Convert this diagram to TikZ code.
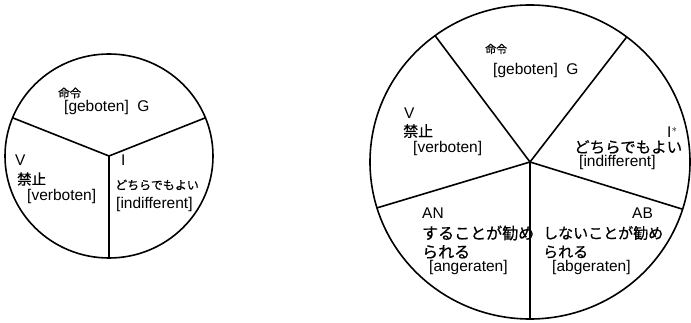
\documentclass[tikz,border=0pt]{standalone}
\usepackage{fontspec}
\setmainfont{Liberation Sans}
\newfontfamily\jpfont[FakeBold=0.6]{Noto Sans CJK JP}
\usetikzlibrary{calc}
\tikzset{
  ring/.style={line width=1.6pt},
  spoke/.style={line width=1.6pt},
  lbl/.style={anchor=west, inner sep=0pt, font=\fontsize{15.5}{16}\selectfont},
  jlbl/.style={anchor=west, inner sep=0pt, font=\jpfont\fontsize{#1}{#1}\selectfont},
}
\begin{document}
\begin{tikzpicture}[x=1pt,y=1pt]
\useasboundingbox (0,0) rectangle (691,322);
% small circle
\coordinate (sc) at (109,166);
\draw[ring] (sc) ellipse [x radius=104pt, y radius=102pt];
\coordinate (s1) at ($(sc)+(158:104pt and 102pt)$);
\coordinate (s2) at ($(sc)+(22:104pt and 102pt)$);
\coordinate (s3) at ($(sc)+(270:104pt and 102pt)$);
\draw[spoke] (sc) -- (s1);
\draw[spoke] (sc) -- (s2);
\draw[spoke] (sc) -- (s3);
\node[jlbl=11.5] (sG1) at (58,229) {命令};
\node[lbl] (sG2) at (64,215) {[geboten]\hspace{0.55em}G};
\node[lbl] (sV1) at (15,162) {V};
\node[jlbl=14.5] (sV2) at (17,143) {禁止};
\node[lbl] (sV3) at (27,126) {[verboten]};
\node[lbl] (sI1) at (121,162) {I};
\node[jlbl=12] (sI2) at (115,137) {どちらでもよい};
\node[lbl] (sI3) at (116,118) {[indifferent]};
% big circle
\coordinate (bc) at (530,160);
\draw[ring] (bc) ellipse [x radius=160pt, y radius=157pt];
\coordinate (b1) at ($(bc)+(126.4:160pt and 157pt)$);
\coordinate (b2) at ($(bc)+(52.8:160pt and 157pt)$);
\coordinate (b3) at ($(bc)+(-17.5:160pt and 157pt)$);
\coordinate (b4) at ($(bc)+(197:160pt and 157pt)$);
\coordinate (b5) at ($(bc)+(270:160pt and 157pt)$);
\foreach \p in {b1,b2,b3,b4,b5} \draw[spoke] (bc) -- (\p);
\node[jlbl=11] (bG1) at (485,273) {命令};
\node[lbl] (bG2) at (493,252) {[geboten]\hspace{0.55em}G};
\node[lbl] (bV1) at (404,209) {V};
\node[jlbl=15] (bV2) at (403,191) {禁止};
\node[lbl] (bV3) at (413,174) {[verboten]};
\node[lbl] (bI1) at (667,190) {I$^{*}$};
\node[jlbl=15.5] (bI2) at (574,175) {どちらでもよい};
\node[lbl] (bI3) at (579,160) {[indifferent]};
\node[lbl] (bAN1) at (422,109) {AN};
\node[jlbl=16] (bAN2) at (422,89) {することが勧め};
\node[jlbl=16] (bAN3) at (422,70) {られる};
\node[lbl] (bAN4) at (429,55) {[angeraten]};
\node[lbl] (bAB1) at (632,109) {AB};
\node[jlbl=15] (bAB2) at (543,89) {しないことが勧め};
\node[jlbl=15] (bAB3) at (543,70) {られる};
\node[lbl] (bAB4) at (552,55) {[abgeraten]};
\end{tikzpicture}
\end{document}
